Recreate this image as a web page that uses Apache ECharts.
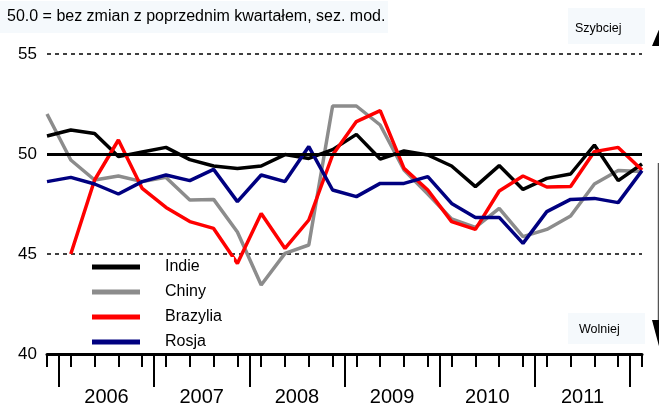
<!DOCTYPE html>
<html lang="pl">
<head>
    <meta charset="UTF-8">
    <title>chart</title>
    <script src="https://cdn.jsdelivr.net/npm/echarts@6/dist/echarts.min.js"></script>
</head>
<body style="margin:0;background:#fff">
<div id="container" style="width:659px;height:407px"></div>
<script type="text/javascript">
    // kwartały: 2005Q4 .. 2012Q1
    var quarters = ['2005Q4', '2006Q1', '2006Q2', '2006Q3', '2006Q4', '2007Q1', '2007Q2', '2007Q3', '2007Q4',
        '2008Q1', '2008Q2', '2008Q3', '2008Q4', '2009Q1', '2009Q2', '2009Q3', '2009Q4',
        '2010Q1', '2010Q2', '2010Q3', '2010Q4', '2011Q1', '2011Q2', '2011Q3', '2011Q4', '2012Q1'];
    var yearLabels = ['2006', '2007', '2008', '2009', '2010', '2011'];
    var yTicks = [40, 45, 50, 55];

    var indie = [50.9, 51.2, 51.03, 49.87, 50.1, 50.33, 49.72, 49.4, 49.28, 49.4, 49.97, 49.78, 50.22,
        50.98, 49.75, 50.15, 49.95, 49.4, 48.37, 49.42, 48.23, 48.78, 49.0, 50.45, 48.67, 49.5];
    var chiny = [52.0, 49.7, 48.7, 48.9, 48.62, 48.83, 47.7, 47.73, 46.1, 43.45, 45.03, 45.45, 52.4,
        52.4, 51.45, 49.2, 48.0, 46.75, 46.33, 47.28, 45.87, 46.23, 46.9, 48.5, 49.17, 49.12];
    var brazylia = [null, 45.0, 48.7, 50.7, 48.28, 47.33, 46.62, 46.28, 44.53, 47.03, 45.28, 46.7, 49.95,
        51.62, 52.17, 49.28, 48.2, 46.62, 46.23, 48.15, 48.9, 48.35, 48.37, 50.12, 50.33, 49.2];
    var rosja = [48.62, 48.83, 48.5, 48.0, 48.62, 48.95, 48.67, 49.23, 47.62, 48.95, 48.62, 50.37, 48.2,
        47.87, 48.53, 48.53, 48.87, 47.53, 46.83, 46.83, 45.53, 47.12, 47.73, 47.78, 47.57, 49.17];

    var font = 'Liberation Sans, Arial, sans-serif';
    var boxColor = '#f5f9fc';

    // oś pomocnicza co pół kwartału: długie kreski między latami, podpisy lat pośrodku
    var halfSteps = [];
    for (var i = 0; i < (quarters.length - 1) * 2 + 1; i++) {
        halfSteps.push('');
    }
    yearLabels.forEach(function (y, k) {
        halfSteps[5 + k * 8] = y;
    });

    var myChart = echarts.init(document.getElementById('container'));

    function lineSeries(name, data, color) {
        return {
            type: 'line',
            name: name,
            data: data,
            xAxisIndex: 0,
            showSymbol: false,
            symbol: 'none',
            animation: false,
            lineStyle: {color: color, width: 3.5},
            itemStyle: {color: color}
        };
    }

    var series = [
        lineSeries('Chiny', chiny, '#8c8c8c'),
        lineSeries('Indie', indie, '#000000'),
        lineSeries('Brazylia', brazylia, '#ff0000'),
        lineSeries('Rosja', rosja, '#000080')
    ];
    series[0].markLine = {
        silent: true,
        symbol: 'none',
        label: {show: false},
        lineStyle: {color: '#000', width: 3, type: 'solid'},
        data: [{yAxis: 50}]
    };

    myChart.setOption({
        animation: false,
        grid: {left: 47, right: 17, top: 54, bottom: 53},
        legend: {
            orient: 'vertical',
            left: 88,
            top: 257,
            padding: [0, 12, 1, 4],
            backgroundColor: '#fff',
            itemWidth: 48,
            itemHeight: 5,
            itemGap: 5,
            icon: 'rect',
            selectedMode: false,
            data: ['Indie', 'Chiny', 'Brazylia', 'Rosja'],
            textStyle: {
                color: '#000',
                fontSize: 16,
                fontFamily: font,
                lineHeight: 20,
                padding: [0, 0, 0, 20]
            }
        },
        xAxis: [{
            type: 'category',
            data: quarters,
            boundaryGap: false,
            position: 'bottom',
            axisLine: {onZero: false, lineStyle: {color: '#000', width: 3}},
            axisTick: {show: true, interval: 0, length: 13, lineStyle: {color: '#000', width: 2}},
            axisLabel: {show: false},
            splitLine: {show: false}
        }, {
            type: 'category',
            data: halfSteps,
            boundaryGap: false,
            position: 'bottom',
            axisLine: {show: false, onZero: false},
            axisTick: {
                show: true,
                length: 33,
                interval: function (idx) {
                    return idx % 8 === 1;
                },
                lineStyle: {color: '#000', width: 2}
            },
            axisLabel: {
                interval: 0,
                color: '#000',
                fontSize: 20,
                fontFamily: font,
                margin: 33
            },
            splitLine: {show: false}
        }],
        yAxis: {
            type: 'value',
            min: 40,
            max: 55,
            interval: 5,
            axisLine: {show: false},
            axisTick: {show: false},
            axisLabel: {
                color: '#000',
                fontSize: 17,
                fontFamily: font,
                margin: 10
            },
            splitLine: {
                show: true,
                lineStyle: {color: '#000', width: 1.5, type: [4, 4]}
            }
        },
        graphic: [
            {
                type: 'rect', left: 0, top: 1, silent: true,
                shape: {width: 388, height: 32},
                style: {fill: boxColor}
            },
            {
                type: 'text', left: 7, top: 9, silent: true,
                style: {
                    text: '50.0 = bez zmian z poprzednim kwartałem, sez. mod.',
                    font: '16px ' + font,
                    fill: '#000'
                }
            },
            {
                type: 'rect', left: 568, top: 8, silent: true,
                shape: {width: 77, height: 36},
                style: {fill: boxColor}
            },
            {
                type: 'text', left: 575, top: 22, silent: true,
                style: {text: 'Szybciej', font: '12.5px ' + font, fill: '#000'}
            },
            {
                type: 'rect', left: 568, top: 313, silent: true,
                shape: {width: 77, height: 31},
                style: {fill: boxColor}
            },
            {
                type: 'text', left: 579, top: 323, silent: true,
                style: {text: 'Wolniej', font: '12.5px ' + font, fill: '#000'}
            },
            {
                type: 'polygon', silent: true,
                shape: {points: [[660, 27], [652, 46], [668, 46]]},
                style: {fill: '#000'}
            },
            {
                type: 'line', silent: true,
                shape: {x1: 658.5, y1: 163, x2: 658.5, y2: 322},
                style: {stroke: '#555', lineWidth: 1.5}
            },
            {
                type: 'polygon', silent: true,
                shape: {points: [[652, 320], [668, 320], [660, 350]]},
                style: {fill: '#000'}
            }
        ],
        series: series
    });
</script>
</body>
</html>
